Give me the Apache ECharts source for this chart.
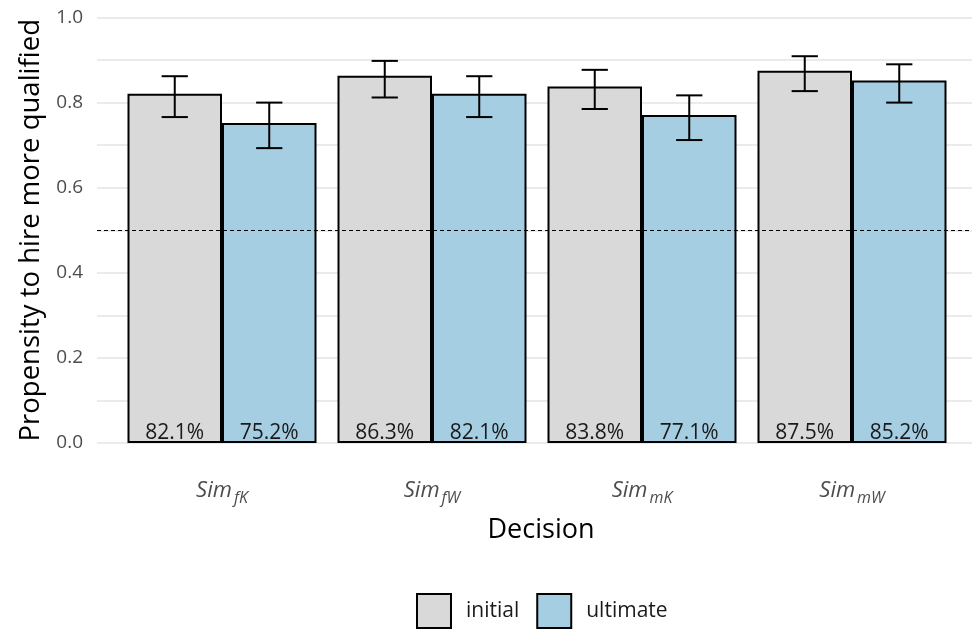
<!DOCTYPE html>
<html>
<head>
<meta charset="utf-8">
<script src="https://cdn.jsdelivr.net/npm/echarts@6/dist/echarts.min.js"></script>
<style>
  html, body { margin: 0; padding: 0; background: #fff; }
  #chart { width: 972px; height: 632px; }
</style>
</head>
<body>
<div id="chart"></div>
<script>
// Decision conditions (subscripts of "Sim")
const categories = ['fK', 'fW', 'mK', 'mW'];
const seriesNames = ['initial', 'ultimate'];

// Share hiring the more qualified candidate
const initialValues = [0.821, 0.863, 0.838, 0.875];
const ultimateValues = [0.752, 0.821, 0.771, 0.852];

// Confidence intervals
const initialLow = [0.766, 0.812, 0.785, 0.827];
const initialHigh = [0.862, 0.898, 0.877, 0.909];
const ultimateLow = [0.693, 0.766, 0.712, 0.800];
const ultimateHigh = [0.800, 0.862, 0.817, 0.890];

const yTicks = [0, 0.2, 0.4, 0.6, 0.8, 1.0];
const chanceLevel = 0.5;

const FONT = 'Open Sans';
const colors = { initial: '#d9d9d9', ultimate: '#a6cee3' };

const chart = echarts.init(document.getElementById('chart'), null, { renderer: 'canvas' });

function errorBarRenderer(side) {
  return function (params, api) {
    const idx = api.value(0);
    const lo = api.coord([idx, api.value(1)]);
    const hi = api.coord([idx, api.value(2)]);
    const band = api.size([1, 0])[0];
    const cx = lo[0] + side * band * 0.225;
    const hw = band * 0.0625;
    const style = { stroke: '#000', lineWidth: 2 };
    return {
      type: 'group',
      children: [
        { type: 'line', shape: { x1: cx, y1: lo[1], x2: cx, y2: hi[1] }, style },
        { type: 'line', shape: { x1: cx - hw, y1: hi[1], x2: cx + hw, y2: hi[1] }, style },
        { type: 'line', shape: { x1: cx - hw, y1: lo[1], x2: cx + hw, y2: lo[1] }, style }
      ]
    };
  };
}

function errorData(lows, highs) {
  return categories.map((c, i) => [i, lows[i], highs[i]]);
}

const barLabel = {
  show: true,
  position: 'insideBottom',
  distance: -1,
  fontFamily: FONT,
  fontSize: 21,
  color: '#1a1a1a',
  formatter: p => (p.value * 100).toFixed(1) + '%'
};

const option = {
  animation: false,
  backgroundColor: '#fff',
  textStyle: { fontFamily: FONT },
  title: {
    text: 'Decision',
    left: 536,
    top: 512,
    textAlign: 'center',
    textStyle: { fontFamily: FONT, fontSize: 27, fontWeight: 'normal', color: '#000' }
  },
  legend: {
    data: seriesNames,
    icon: 'rect',
    left: 416,
    top: 593,
    padding: 0,
    itemWidth: 34,
    itemHeight: 34,
    itemGap: 17,
    textStyle: { fontFamily: FONT, fontSize: 21, color: '#1a1a1a', padding: [0, 0, 0, 10] }
  },
  grid: [
    { left: 97, right: 0, top: 17.5, bottom: 189 },
    { left: 117, right: 15, top: 17.5, bottom: 189 }
  ],
  xAxis: [
    { gridIndex: 0, type: 'value', min: 0, max: 1, show: false },
    {
      gridIndex: 1,
      type: 'category',
      data: categories,
      axisLine: { show: false },
      axisTick: { show: false },
      axisLabel: {
        margin: 33,
        formatter: v => '{m|Sim}{s|' + v + '}',
        rich: {
          m: { fontFamily: FONT, fontStyle: 'italic', fontSize: 22, color: '#4d4d4d', padding: [0, 2, 0, 0] },
          s: { fontFamily: FONT, fontStyle: 'italic', fontSize: 16, color: '#4d4d4d', padding: [14, 0, 0, 0] }
        }
      }
    }
  ],
  yAxis: [
    {
      gridIndex: 0,
      type: 'value',
      min: 0,
      max: 1,
      interval: 0.2,
      name: 'Propensity to hire more qualified',
      nameLocation: 'middle',
      nameGap: 50,
      nameTextStyle: { fontFamily: FONT, fontSize: 27.5, color: '#000' },
      axisLine: { show: false },
      axisTick: { show: false },
      axisLabel: {
        margin: 14,
        fontFamily: FONT,
        fontSize: 19,
        color: '#4d4d4d',
        formatter: v => {
          const t = yTicks.find(k => Math.abs(k - v) < 1e-9);
          return t === undefined ? '' : t.toFixed(1);
        }
      },
      splitLine: { show: true, lineStyle: { color: '#ebebeb', width: 2 } },
      minorTick: { show: false, splitNumber: 2 },
      minorSplitLine: { show: true, lineStyle: { color: '#ebebeb', width: 2 } }
    },
    { gridIndex: 1, type: 'value', min: 0, max: 1, show: false }
  ],
  series: [
    {
      name: 'reference',
      type: 'line',
      xAxisIndex: 0,
      yAxisIndex: 0,
      data: [],
      silent: true,
      markLine: {
        silent: true,
        symbol: 'none',
        label: { show: false },
        lineStyle: { color: '#000', type: [4, 3], width: 1 },
        data: [{ yAxis: chanceLevel }]
      }
    },
    {
      name: 'initial',
      type: 'bar',
      xAxisIndex: 1,
      yAxisIndex: 1,
      data: initialValues,
      barGap: '0%',
      barCategoryGap: '10%',
      itemStyle: { color: colors.initial, borderColor: '#000', borderWidth: 2 },
      label: barLabel,
      z: 2
    },
    {
      name: 'ultimate',
      type: 'bar',
      xAxisIndex: 1,
      yAxisIndex: 1,
      data: ultimateValues,
      barGap: '0%',
      barCategoryGap: '10%',
      itemStyle: { color: colors.ultimate, borderColor: '#000', borderWidth: 2 },
      label: barLabel,
      z: 2
    },
    {
      name: 'initialCI',
      type: 'custom',
      xAxisIndex: 1,
      yAxisIndex: 1,
      renderItem: errorBarRenderer(-1),
      encode: { x: 0, y: [1, 2] },
      data: errorData(initialLow, initialHigh),
      z: 5
    },
    {
      name: 'ultimateCI',
      type: 'custom',
      xAxisIndex: 1,
      yAxisIndex: 1,
      renderItem: errorBarRenderer(1),
      encode: { x: 0, y: [1, 2] },
      data: errorData(ultimateLow, ultimateHigh),
      z: 5
    }
  ]
};

chart.setOption(option);
</script>
</body>
</html>
